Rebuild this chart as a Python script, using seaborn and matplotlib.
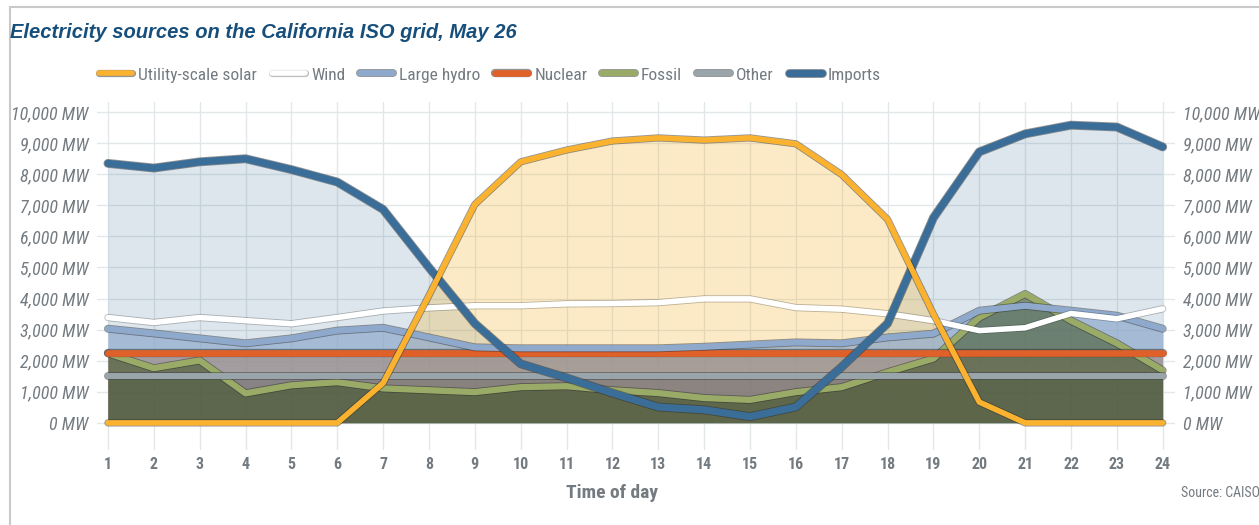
import matplotlib
matplotlib.use("Agg")
import matplotlib.pyplot as plt
import matplotlib.patheffects as pe
from matplotlib import font_manager as fm
from matplotlib.lines import Line2D
import seaborn as sns

hours = list(range(1, 25))

solar = [0, 0, 0, 0, 0, 0, 1280, 4100, 7030, 8400, 8780, 9070,
         9170, 9100, 9170, 8980, 7990, 6550, 3500, 670, 0, 0, 0, 0]
wind = [3390, 3230, 3390, 3290, 3190, 3390, 3600, 3700, 3770, 3770, 3830, 3840,
        3870, 3990, 3990, 3710, 3660, 3510, 3290, 2970, 3060, 3520, 3350, 3670]
hydro = [3030, 2880, 2720, 2560, 2720, 2970, 3060, 2750, 2430, 2400, 2400, 2400,
         2400, 2450, 2520, 2590, 2560, 2750, 2870, 3610, 3770, 3610, 3450, 3030]
nuclear = [2250, 2250, 2250, 2250, 2250, 2250, 2250, 2250, 2250, 2250, 2250, 2250,
           2250, 2250, 2250, 2250, 2250, 2250, 2250, 2250, 2250, 2250, 2250, 2250]
fossil = [2240, 1760, 2010, 950, 1210, 1310, 1110, 1050, 990, 1150, 1180, 1050,
          960, 800, 740, 990, 1150, 1630, 2070, 3390, 4150, 3290, 2560, 1690]
other = [1500, 1500, 1500, 1500, 1500, 1500, 1500, 1500, 1500, 1500, 1500, 1500,
         1500, 1500, 1500, 1500, 1500, 1500, 1500, 1500, 1500, 1500, 1500, 1500]
imports = [8350, 8200, 8400, 8500, 8150, 7750, 6870, 5000, 3200, 1900, 1450, 960,
           510, 420, 200, 510, 1800, 3200, 6600, 8720, 9300, 9580, 9520, 8880]

y_ticks = [0, 1000, 2000, 3000, 4000, 5000, 6000, 7000, 8000, 9000, 10000]

sns.set_style("whitegrid")

# pick a narrow face if one is installed, else Lato (narrowest of the rest)
installed = {f.name for f in fm.fontManager.ttflist}
narrow = None
for cand in ["Liberation Sans Narrow", "Roboto Condensed", "Open Sans Condensed",
             "DejaVu Sans Condensed"]:
    if cand in installed:
        narrow = cand
        break
if narrow is None:
    narrow = "Lato"
    k = 0.9
else:
    k = 1.0
plt.rcParams["font.family"] = [narrow, "DejaVu Sans"]

grey_txt = "#737a80"

fig = plt.figure(figsize=(12.59, 5.25), dpi=100)
ax = fig.add_axes([0.077, 0.143, 0.856, 0.663])

# fills (drawn back to front)
fills = [
    (imports, "#3a6e99", 0.17, 1.0),
    (solar, "#f3af1b", 0.25, 1.1),
    (hydro, "#8ea9cc", 0.70, 1.2),
    (nuclear, "#a0714f", 0.40, 1.3),
    (other, "#505050", 0.33, 1.4),
    (fossil, "#3c5020", 0.55, 1.5),
]
for vals, col, a, z in fills:
    ax.fill_between(hours, 0, vals, color=col, alpha=a, lw=0, zorder=z)

series = [
    ("Utility-scale solar", solar, "#fbb22f", 4.0, 9, 0.5),
    ("Wind", wind, "#ffffff", 4.0, 6, 0.3),
    ("Large hydro", hydro, "#8ea9cc", 4.5, 5, 0.5),
    ("Nuclear", nuclear, "#e0602a", 4.8, 4, 0.5),
    ("Fossil", fossil, "#9aab68", 4.5, 2, 0.5),
    ("Other", other, "#9aa5ab", 4.5, 3, 0.5),
    ("Imports", imports, "#3a6e99", 5.2, 7, 0.5),
]
for name, vals, col, lw, z, ea in series:
    sns.lineplot(x=hours, y=vals, ax=ax, color=col, linewidth=lw, zorder=z,
                 label=name, solid_capstyle="round", solid_joinstyle="round",
                 path_effects=[pe.Stroke(linewidth=lw + 1.2, foreground="#2b2b2b", alpha=ea),
                               pe.Normal()])

h, l = ax.get_legend_handles_labels()
ax.get_legend().remove()

ax.set_xlim(0.76, 24.26)
ax.set_ylim(-870, 10330)
ax.set_xticks(hours)
ax.set_xticklabels([str(h_) for h_ in hours], fontsize=11.5 * k, fontweight="bold", color=grey_txt)
ax.set_yticks(y_ticks)
ax.set_yticklabels([f"{v:,} MW" for v in y_ticks], fontsize=13 * k, style="italic", color=grey_txt)
ax.tick_params(axis="y", labelright=True, length=0, pad=6)
ax.tick_params(axis="x", length=0, pad=5)
ax.grid(True, color="#e2e7ea", linewidth=1.0)
ax.set_axisbelow(True)
for s in ax.spines.values():
    s.set_visible(False)
ax.set_xlabel("")
ax.set_ylabel("")

fig.legend(h, l, loc="center", bbox_to_anchor=(490 / 1259, 1 - 75 / 525), ncol=7,
           frameon=False, fontsize=12.5 * k, handlelength=1.9, columnspacing=0.85,
           handletextpad=0.35, labelcolor=grey_txt)

fig.text(10 / 1259, 1 - 33 / 525, "Electricity sources on the California ISO grid, May 26",
         fontsize=14.5, fontweight="bold", style="italic", color="#174f7c",
         family=["Liberation Sans", "DejaVu Sans"], va="center", ha="left")
fig.text(612 / 1259, 1 - 493 / 525, "Time of day", fontsize=14 * k, fontweight="bold",
         color=grey_txt, ha="center", va="center")
fig.text(1181 / 1259, 1 - 493 / 525, "Source: CAISO", fontsize=10 * k,
         color=grey_txt, ha="left", va="center")

fig.add_artist(Line2D([10 / 1259, 10 / 1259], [0, 1 - 7 / 525], transform=fig.transFigure,
                      color="#c9c9c9", lw=1.5))
fig.add_artist(Line2D([10 / 1259, 1], [1 - 7 / 525, 1 - 7 / 525], transform=fig.transFigure,
                      color="#c9c9c9", lw=1.5))

fig.savefig("out.png", dpi=100)
